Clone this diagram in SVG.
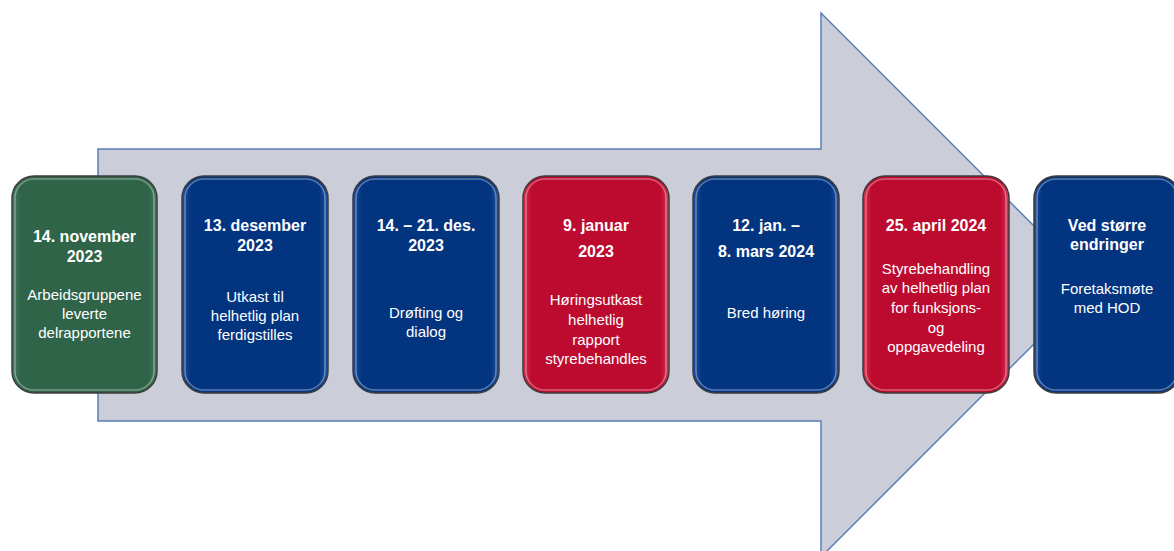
<svg xmlns="http://www.w3.org/2000/svg" width="1174" height="551" viewBox="0 0 1174 551">
<defs>
<linearGradient id="gGreen" x1="0" y1="0" x2="1" y2="0">
<stop offset="0" stop-color="#3f7a5c"/><stop offset="0.06" stop-color="#2f6449"/><stop offset="0.94" stop-color="#2f6449"/><stop offset="1" stop-color="#417d5f"/>
</linearGradient>
<linearGradient id="gBlue" x1="0" y1="0" x2="1" y2="0">
<stop offset="0" stop-color="#1d4fa0"/><stop offset="0.06" stop-color="#03347f"/><stop offset="0.94" stop-color="#03347f"/><stop offset="1" stop-color="#1f52a3"/>
</linearGradient>
<linearGradient id="gRed" x1="0" y1="0" x2="1" y2="0">
<stop offset="0" stop-color="#d6304f"/><stop offset="0.06" stop-color="#bd0a2f"/><stop offset="0.94" stop-color="#bd0a2f"/><stop offset="1" stop-color="#d8345a"/>
</linearGradient>
<style>
.box{stroke:#3d3d3d;stroke-width:1.5}
.hl{fill:none;stroke:#ffffff;stroke-opacity:0.35;stroke-width:1.5}
text{font-family:"Liberation Sans",Arial,sans-serif;font-size:15px;fill:#ffffff;text-anchor:middle}
.b{font-weight:bold;font-size:16px}
</style>
</defs>
<g id="arrow">
<path d="M98,149 H821 V13 L1093,285 L821,557 V421 H98 Z" fill="#cbced9" stroke="#5a7db6" stroke-width="1.5"/>
</g>
<g id="node1">
<rect class="box" x="12" y="176" width="145" height="217" rx="22" fill="url(#gGreen)"/>
<rect class="hl" x="15" y="179" width="139" height="211" rx="19"/>
<text class="b" x="84.5" y="242">14. november</text>
<text class="b" x="84.5" y="262">2023</text>
<text x="84.5" y="300">Arbeidsgruppene</text>
<text x="84.5" y="319">leverte</text>
<text x="84.5" y="338">delrapportene</text>
</g>
<g id="node2">
<rect class="box" x="182" y="176" width="146" height="217" rx="22" fill="url(#gBlue)"/>
<rect class="hl" x="185" y="179" width="140" height="211" rx="19"/>
<text class="b" x="255" y="231">13. desember</text>
<text class="b" x="255" y="251">2023</text>
<text x="255" y="302">Utkast til</text>
<text x="255" y="321">helhetlig plan</text>
<text x="255" y="340">ferdigstilles</text>
</g>
<g id="node3">
<rect class="box" x="353" y="176" width="146" height="217" rx="22" fill="url(#gBlue)"/>
<rect class="hl" x="356" y="179" width="140" height="211" rx="19"/>
<text class="b" x="426" y="231">14. – 21. des.</text>
<text class="b" x="426" y="251">2023</text>
<text x="426" y="318">Drøfting og</text>
<text x="426" y="337">dialog</text>
</g>
<g id="node4">
<rect class="box" x="523" y="176" width="146" height="217" rx="22" fill="url(#gRed)"/>
<rect class="hl" x="526" y="179" width="140" height="211" rx="19"/>
<text class="b" x="596" y="231">9. januar</text>
<text class="b" x="596" y="257">2023</text>
<text x="596" y="305">Høringsutkast</text>
<text x="596" y="325">helhetlig</text>
<text x="596" y="345">rapport</text>
<text x="596" y="364">styrebehandles</text>
</g>
<g id="node5">
<rect class="box" x="693" y="176" width="146" height="217" rx="22" fill="url(#gBlue)"/>
<rect class="hl" x="696" y="179" width="140" height="211" rx="19"/>
<text class="b" x="766" y="231">12. jan. –</text>
<text class="b" x="766" y="257">8. mars 2024</text>
<text x="766" y="318">Bred høring</text>
</g>
<g id="node6">
<rect class="box" x="863" y="176" width="146" height="217" rx="22" fill="url(#gRed)"/>
<rect class="hl" x="866" y="179" width="140" height="211" rx="19"/>
<text class="b" x="936" y="231">25. april 2024</text>
<text x="936" y="274">Styrebehandling</text>
<text x="936" y="293">av helhetlig plan</text>
<text x="936" y="313">for funksjons-</text>
<text x="936" y="333">og</text>
<text x="936" y="352">oppgavedeling</text>
</g>
<g id="node7">
<rect class="box" x="1034" y="176" width="146" height="217" rx="22" fill="url(#gBlue)"/>
<rect class="hl" x="1037" y="179" width="140" height="211" rx="19"/>
<text class="b" x="1107" y="231">Ved større</text>
<text class="b" x="1107" y="250">endringer</text>
<text x="1107" y="294">Foretaksmøte</text>
<text x="1107" y="313">med HOD</text>
</g>
<g id="connectors"></g>
</svg>
